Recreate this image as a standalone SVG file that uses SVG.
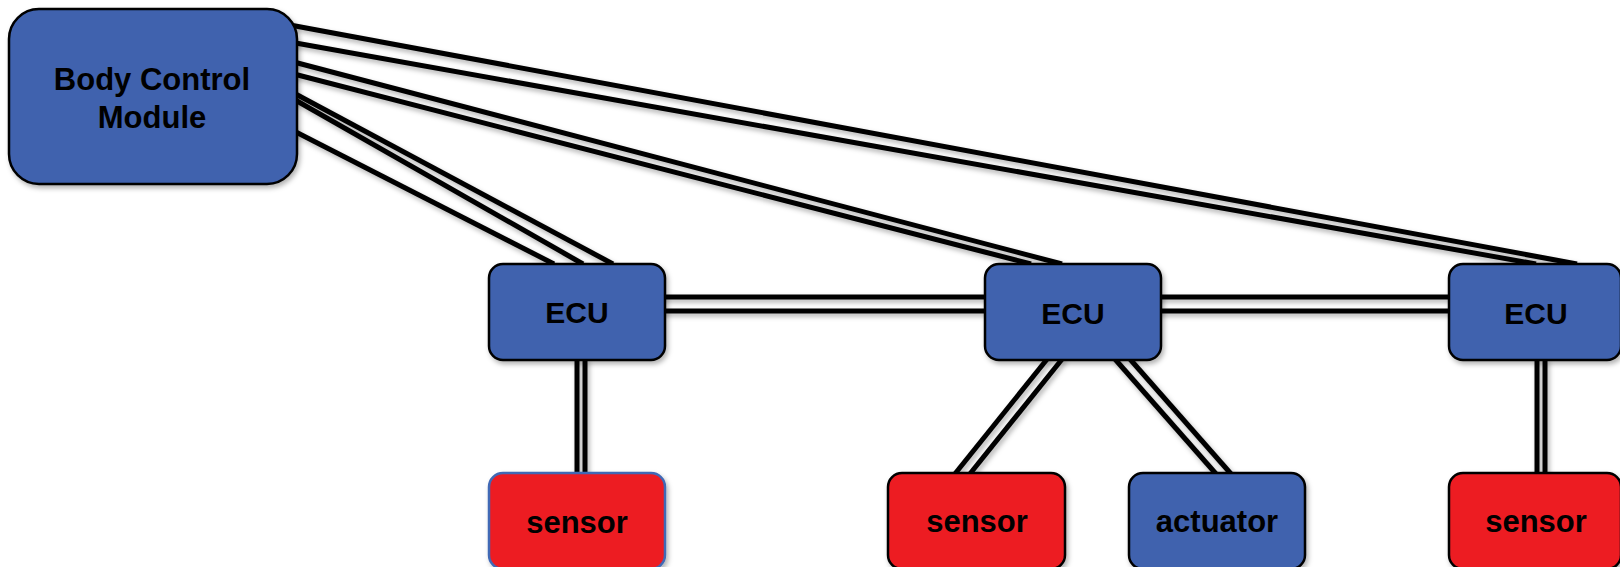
<svg xmlns="http://www.w3.org/2000/svg" width="1620" height="567" viewBox="0 0 1620 567">
  <defs>
    <filter id="shadow" x="-10%" y="-10%" width="130%" height="140%">
      <feDropShadow dx="2" dy="3" stdDeviation="2.5" flood-color="#000" flood-opacity="0.3"/>
    </filter>
  </defs>
  <style>
    .box { stroke: #000; stroke-width: 2.5; filter: url(#shadow); }
    .blue { fill: #3F62AE; }
    .red { fill: #ED1C24; }
    .wire { stroke: #000; stroke-width: 5; fill: none; stroke-linecap: butt; }
    .label { font-family: "Liberation Sans", Arial, sans-serif; font-weight: bold; fill: #000; text-anchor: middle; }
  </style>

  <!-- bus wiring -->
  <g id="connectors" filter="url(#shadow)">
    <!-- BCM to right ECU -->
    <line class="wire" x1="290" y1="25" x2="1577" y2="264"/>
    <line class="wire" x1="290" y1="42" x2="1536" y2="264"/>
    <!-- BCM to middle ECU -->
    <line class="wire" x1="290" y1="61" x2="1062" y2="264"/>
    <line class="wire" x1="290" y1="73" x2="1031" y2="264"/>
    <!-- BCM to left ECU -->
    <line class="wire" x1="290" y1="91" x2="613" y2="264"/>
    <line class="wire" x1="290" y1="97" x2="583" y2="264"/>
    <line class="wire" x1="290" y1="129" x2="554" y2="264"/>
    <!-- ECU to ECU -->
    <line class="wire" x1="660" y1="297" x2="990" y2="297"/>
    <line class="wire" x1="660" y1="311" x2="990" y2="311"/>
    <line class="wire" x1="1156" y1="297" x2="1454" y2="297"/>
    <line class="wire" x1="1156" y1="311" x2="1454" y2="311"/>
    <!-- ECU to devices -->
    <line class="wire" x1="577" y1="358" x2="577" y2="475"/>
    <line class="wire" x1="585" y1="358" x2="585" y2="475"/>
    <line class="wire" x1="1048" y1="358" x2="954" y2="475"/>
    <line class="wire" x1="1063" y1="358" x2="969" y2="475"/>
    <line class="wire" x1="1114" y1="358" x2="1217" y2="475"/>
    <line class="wire" x1="1129" y1="358" x2="1232" y2="475"/>
    <line class="wire" x1="1537" y1="358" x2="1537" y2="475"/>
    <line class="wire" x1="1545" y1="358" x2="1545" y2="475"/>
  </g>

  <g id="bcm">
    <rect class="box blue" x="9" y="9" width="288" height="175" rx="30" ry="30"/>
    <text class="label" x="152" y="90" font-size="31">Body Control</text>
    <text class="label" x="152" y="128" font-size="31">Module</text>
  </g>

  <g id="ecu-left">
    <rect class="box blue" x="489" y="264" width="176" height="96" rx="14" ry="14"/>
    <text class="label" x="577" y="323" font-size="30">ECU</text>
  </g>

  <g id="ecu-middle">
    <rect class="box blue" x="985" y="264" width="176" height="96" rx="14" ry="14"/>
    <text class="label" x="1073" y="324" font-size="30">ECU</text>
  </g>

  <g id="ecu-right">
    <rect class="box blue" x="1449" y="264" width="172" height="96" rx="14" ry="14"/>
    <text class="label" x="1536" y="324" font-size="30">ECU</text>
  </g>

  <g id="sensor-left">
    <rect class="box red" x="489" y="473" width="176" height="96" rx="14" ry="14" style="stroke:#4169B5"/>
    <text class="label" x="577" y="533" font-size="31">sensor</text>
  </g>

  <g id="sensor-middle">
    <rect class="box red" x="888" y="473" width="177" height="96" rx="14" ry="14"/>
    <text class="label" x="977" y="532" font-size="31">sensor</text>
  </g>

  <g id="actuator">
    <rect class="box blue" x="1129" y="473" width="176" height="96" rx="14" ry="14"/>
    <text class="label" x="1217" y="532" font-size="31">actuator</text>
  </g>

  <g id="sensor-right">
    <rect class="box red" x="1449" y="473" width="172" height="96" rx="14" ry="14"/>
    <text class="label" x="1536" y="532" font-size="31">sensor</text>
  </g>
</svg>
